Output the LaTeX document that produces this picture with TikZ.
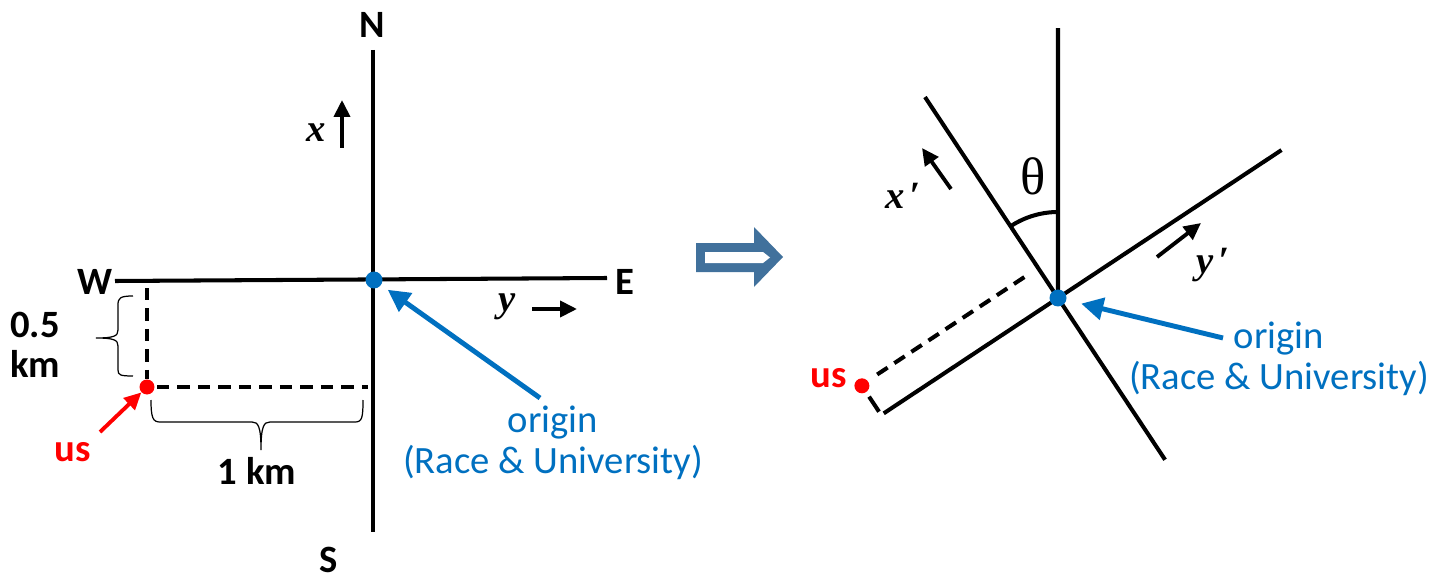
\documentclass[tikz,border=0pt]{standalone}
\usepackage{fontspec}
\setmainfont{Carlito}
\newfontfamily\serifmath{Liberation Serif}
\usetikzlibrary{arrows.meta,math}
\definecolor{myblue}{RGB}{0,112,192}
\definecolor{myred}{RGB}{255,0,0}
\definecolor{arrowblue}{RGB}{65,113,156}

\begin{document}
\begin{tikzpicture}[x=0.02cm,y=-0.02cm,
  axis/.style={line width=2.3pt},
  dashline/.style={line width=2.3pt,dash pattern=on 0.25cm off 0.16cm},
  bracel/.style={line width=0.7pt},
  dir/.style={line width=2.2pt,-{Triangle[length=0.34cm,width=0.32cm]}},
  pointer/.style={line width=2.8pt,-{Triangle[length=0.44cm,width=0.44cm]}},
  compass/.style={font=\fontsize{22}{23}\selectfont\bfseries,align=center},
  bluetxt/.style={text=myblue,align=center,font=\fontsize{22}{23}\selectfont},
  coordlbl/.style={font=\fontsize{22}{26}\serifmath\bfseries\itshape},
  dot/.style={circle,fill,inner sep=0pt,minimum size=0.34cm}]
\tikzmath{
\ang=33.5;
\usx=-212;
\usy=35;
}
\useasboundingbox (0,0) rectangle (1441,581);

% left: compass frame
\coordinate (ntop) at (373,50);
\coordinate (sbot) at (373,532);
\coordinate (wend) at (115,281);
\coordinate (eend) at (607,278);
\draw[axis] (ntop) -- (sbot);
\draw[axis] (wend) -- (eend);
\node[compass] (N) at (372,25) {N};
\node[compass] (S) at (329,560) {S};
\node[compass] (W) at (95,282) {W};
\node[compass] (E) at (625,282) {E};

\coordinate (xa) at (342,148);
\coordinate (xb) at (342,100);
\draw[dir] (xa) -- (xb);
\node[coordlbl] (xl) at (316,133) {x};
\coordinate (ya) at (532,309);
\coordinate (yb) at (577,309);
\draw[dir] (ya) -- (yb);
\node[coordlbl] (yl) at (507,307) {y};

\node[dot,myred,minimum size=0.3cm] (us1) at (147,387) {};
\coordinate (dv) at (147,288);
\coordinate (dv2) at (147,379);
\coordinate (dh) at (157,387);
\coordinate (dh2) at (368,387);
\draw[dashline] (dv) -- (dv2);
\draw[dashline] (dh) -- (dh2);

\draw[bracel] (133,296) .. controls (120,296) and (118,298) .. (118,305) -- (118,330)
  .. controls (118,336) and (114,338) .. (96,338)
  .. controls (114,338) and (118,340) .. (118,346) -- (118,370)
  .. controls (118,375) and (120,376) .. (133,376);
\draw[bracel] (151,400) .. controls (151,418) and (153,422) .. (160,422) -- (252,422)
  .. controls (258,422) and (261,426) .. (261,450)
  .. controls (261,426) and (264,422) .. (270,422) -- (355,422)
  .. controls (362,422) and (363,418) .. (363,400);
\node[compass] (half) at (35,345) {0.5\\km};
\node[compass] (one) at (257,471) {1 km};

\node[compass,text=myred] (usl) at (73,452) {us};
\coordinate (ustail) at (100,432);
\draw[dir,myred] (ustail) -- (us1);

\node[dot,myblue] (o1) at (374,280) {};
\node[bluetxt] (orgL) at (553,443) {origin\\(Race \& University)};
\coordinate (otail) at (540,398);
\draw[pointer,myblue,shorten >=0.16cm] (otail) -- (o1);

% hollow arrow
\fill[arrowblue] (696,243) -- (754,243) -- (754,227) -- (783,257) -- (754,287) -- (754,272) -- (696,272) -- cycle;
\fill[white] (705,252) -- (763,252) -- (770,257.5) -- (763,263) -- (705,263) -- cycle;

% right: rotated frame
\begin{scope}[shift={(1058,298)},y=0.02cm,rotate=\ang]
\coordinate (O2) at (0,0);
\coordinate (ypos) at (268,0);
\coordinate (yneg) at (-209,0);
\coordinate (xpos) at (0,241);
\coordinate (xneg) at (0,-194);
\coordinate (npos) at (90-\ang:270);
\draw[axis] (yneg) -- (ypos);
\draw[axis] (xneg) -- (xpos);
\draw[axis] (O2) -- (npos);
\draw[line width=2.3pt] (90-\ang:86) arc[start angle=90-\ang,end angle=90,radius=86];
\coordinate (da) at (\usx+19,\usy+1);
\coordinate (db) at (-11,\usy+1);
\coordinate (dc) at (\usx,\usy-13);
\coordinate (dd) at (\usx,4);
\draw[dashline] (da) -- (db);
\draw[axis] (dc) -- (dd);
\node[dot,myred,minimum size=0.3cm] (us2) at (\usx,\usy) {};
\node[dot,myblue] (o2) at (O2) {};
\end{scope}

\node[font=\fontsize{30}{32}\serifmath] (th) at (1033,176) {θ};
\coordinate (xpa) at (951,189);
\coordinate (xpb) at (922,148);
\draw[dir] (xpa) -- (xpb);
\node[coordlbl] (xpl) at (903,196) {x\hspace{3pt}′};
\coordinate (ypa) at (1157,257);
\coordinate (ypb) at (1201,223);
\draw[dir] (ypa) -- (ypb);
\node[coordlbl] (ypl) at (1213,265) {y\hspace{3pt}′};

\node[compass,text=myred] (usr) at (829,378) {us};
\node[bluetxt] (orgR) at (1279,359) {origin\\(Race \& University)};
\coordinate (otail2) at (1223,338);
\draw[pointer,myblue,shorten >=0.3cm] (otail2) -- (o2);
\end{tikzpicture}
\end{document}
